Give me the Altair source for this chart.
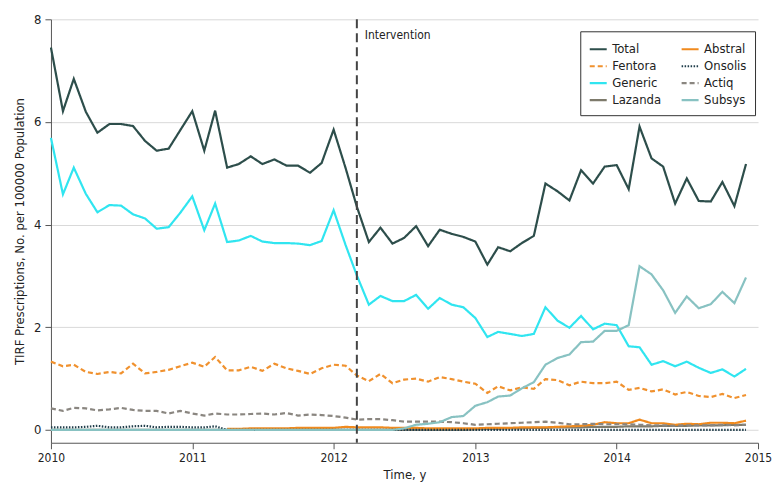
import altair as alt
import pandas as pd

months = pd.date_range("2010-01-01", periods=60, freq="MS")

total = [7.45, 6.21, 6.84, 6.20, 5.79, 5.96, 5.96, 5.92, 5.63, 5.44, 5.48, 5.84,
         6.21, 5.44, 6.22, 5.11, 5.18, 5.33, 5.18, 5.27, 5.15, 5.15, 5.01, 5.20,
         5.85, 5.10, 4.35, 3.66, 3.94, 3.63, 3.74, 3.97, 3.58, 3.90, 3.82, 3.76,
         3.67, 3.22, 3.56, 3.48, 3.64, 3.78, 4.80, 4.65, 4.47, 5.06, 4.80, 5.13,
         5.16, 4.69, 5.91, 5.29, 5.13, 4.41, 4.90, 4.46, 4.45, 4.83, 4.36, 5.18]
generic = [5.69, 4.59, 5.11, 4.60, 4.24, 4.38, 4.37, 4.20, 4.12, 3.92, 3.95, 4.23,
           4.55, 3.89, 4.41, 3.66, 3.69, 3.78, 3.67, 3.64, 3.64, 3.63, 3.60, 3.68,
           4.28, 3.60, 3.01, 2.44, 2.61, 2.51, 2.51, 2.63, 2.36, 2.57, 2.44, 2.39,
           2.18, 1.81, 1.91, 1.87, 1.83, 1.87, 2.39, 2.13, 1.99, 2.22, 1.96, 2.07,
           2.04, 1.63, 1.61, 1.27, 1.34, 1.24, 1.33, 1.21, 1.11, 1.18, 1.04, 1.19]
fentora = [1.33, 1.24, 1.27, 1.13, 1.09, 1.13, 1.10, 1.29, 1.10, 1.13, 1.17, 1.24,
           1.31, 1.23, 1.42, 1.16, 1.16, 1.23, 1.15, 1.29, 1.20, 1.15, 1.09, 1.20,
           1.27, 1.25, 1.06, 0.95, 1.09, 0.91, 0.98, 1.00, 0.94, 1.03, 0.99, 0.94,
           0.90, 0.72, 0.85, 0.77, 0.83, 0.80, 0.99, 0.97, 0.87, 0.94, 0.91, 0.91,
           0.94, 0.78, 0.82, 0.75, 0.79, 0.69, 0.74, 0.66, 0.64, 0.70, 0.62, 0.68]
actiq = [0.42, 0.37, 0.43, 0.42, 0.38, 0.40, 0.43, 0.39, 0.37, 0.37, 0.32, 0.37,
         0.32, 0.28, 0.32, 0.30, 0.30, 0.31, 0.32, 0.30, 0.33, 0.28, 0.30, 0.29,
         0.27, 0.24, 0.20, 0.21, 0.21, 0.19, 0.16, 0.16, 0.16, 0.16, 0.15, 0.13,
         0.10, 0.11, 0.12, 0.13, 0.14, 0.15, 0.16, 0.14, 0.11, 0.11, 0.12, 0.11,
         0.11, 0.11, 0.10, 0.09, 0.09, 0.08, 0.09, 0.09, 0.09, 0.10, 0.09, 0.10]
subsys = [0.0] * 30 + [0.03, 0.10, 0.12, 0.15, 0.25, 0.27,
                       0.47, 0.54, 0.65, 0.67, 0.81, 0.93, 1.27, 1.40, 1.47, 1.71, 1.72, 1.93,
                       1.93, 2.04, 3.19, 3.03, 2.72, 2.28, 2.60, 2.37, 2.45, 2.69, 2.47, 2.97]
onsolis = [0.05, 0.05, 0.05, 0.06, 0.08, 0.05, 0.05, 0.07, 0.08, 0.05, 0.06, 0.06,
           0.05, 0.05, 0.07] + [0.0] * 45
lazanda = [0.0] * 36 + [0.01, 0.02, 0.02, 0.03, 0.03, 0.04, 0.04, 0.05, 0.05, 0.05, 0.06, 0.06,
                        0.06, 0.07, 0.07, 0.07, 0.08, 0.08, 0.08, 0.09, 0.09, 0.09, 0.10, 0.10]
abstral = [None] * 15 + [0.02, 0.02, 0.03, 0.03, 0.03, 0.03, 0.04, 0.04, 0.04,
                         0.04, 0.06, 0.05, 0.05, 0.05, 0.04, 0.04, 0.04, 0.03, 0.03, 0.03, 0.03,
                         0.03, 0.04, 0.04, 0.04, 0.05, 0.05, 0.05, 0.06, 0.07, 0.08, 0.10, 0.15,
                         0.13, 0.13, 0.20, 0.13, 0.13, 0.10, 0.12, 0.11, 0.14, 0.14, 0.13, 0.18]

# legend fills column by column: first column Total..Lazanda, second Abstral..Subsys
series_names = ["Total", "Fentora", "Generic", "Lazanda", "Abstral", "Onsolis", "Actiq", "Subsys"]
series_colors = ["#2d4e4b", "#f0912e", "#30e5f0", "#7d7a6b", "#f08a1e", "#1f3d4a", "#8a8680", "#88c2c2"]
series_dash = [[1, 0], [5, 3], [1, 0], [1, 0], [1, 0], [1.5, 1.5], [5, 3], [1, 0]]
series_values = {"Total": total, "Abstral": abstral, "Fentora": fentora, "Onsolis": onsolis,
                 "Generic": generic, "Actiq": actiq, "Lazanda": lazanda, "Subsys": subsys}
draw_order = {"Onsolis": 0, "Lazanda": 1, "Abstral": 2, "Actiq": 3, "Fentora": 4,
              "Subsys": 5, "Generic": 6, "Total": 7}

rows = []
for name in series_names:
    for d, v in zip(months, series_values[name]):
        if v is not None:
            rows.append({"date": d, "value": v, "series": name, "ord": draw_order[name]})
df = pd.DataFrame(rows)

intervention = pd.DataFrame({"date": [pd.Timestamp("2012-03-01")], "label": ["Intervention"], "y": [7.7]})

FONT = "DejaVu Sans Condensed"

x_scale = alt.Scale(domain=[pd.Timestamp("2010-01-01").isoformat(), pd.Timestamp("2015-01-01").isoformat()])
y_scale = alt.Scale(domain=[-0.25, 8], nice=False)

lines = alt.Chart(df).mark_line(strokeWidth=2.2).encode(
    x=alt.X("date:T", scale=x_scale,
            axis=alt.Axis(title="Time, y", format="%Y", tickCount={"interval": "year", "step": 1},
                          grid=False, labelFlush=False, labelFontSize=12, titleFontSize=13,
                          titleFontWeight="normal",
                          labelColor="#222", titleColor="#222", domainColor="#555", tickColor="#555",
                          tickSize=6, labelPadding=4, titlePadding=5)),
    y=alt.Y("value:Q", scale=y_scale,
            axis=alt.Axis(title="TIRF Prescriptions, No. per 100000 Population", values=[0, 2, 4, 6, 8],
                          grid=True, gridColor="#d9d9d9", labelFontSize=13, titleFontSize=13,
                          titleFontWeight="normal", labelColor="#222", titleColor="#222",
                          domainColor="#555", tickColor="#555", tickSize=6, labelPadding=4, titlePadding=7)),
    color=alt.Color("series:N", scale=alt.Scale(domain=series_names, range=series_colors),
                    legend=alt.Legend(title=None, orient="none", legendX=530, legendY=12, columns=2,
                                      strokeColor="#333", padding=8, symbolType="stroke",
                                      symbolSize=289, symbolStrokeWidth=2.2, labelFontSize=13,
                                      labelColor="#222", columnPadding=16, rowPadding=0,
                                      fillColor="white")),
    strokeDash=alt.StrokeDash("series:N", scale=alt.Scale(domain=series_names, range=series_dash)),
    detail="series:N",
    order=alt.Order("ord:Q"),
)

rule = alt.Chart(intervention).mark_rule(color="#444", strokeWidth=2, strokeDash=[9, 5]).encode(
    x=alt.X("date:T", scale=x_scale)
)

text = alt.Chart(intervention).mark_text(align="left", baseline="middle", dx=8, fontSize=12,
                                         color="#222", font=FONT).encode(
    x=alt.X("date:T", scale=x_scale),
    y=alt.Y("y:Q", scale=y_scale),
    text="label:N",
)

chart = alt.layer(lines, rule, text).properties(
    width=708, height=424,
    padding={"left": 5, "top": 5, "right": 0, "bottom": 5},
).configure(font=FONT).configure_view(stroke=None)

chart.save("out.html", embed_options={"renderer": "svg", "actions": False})
